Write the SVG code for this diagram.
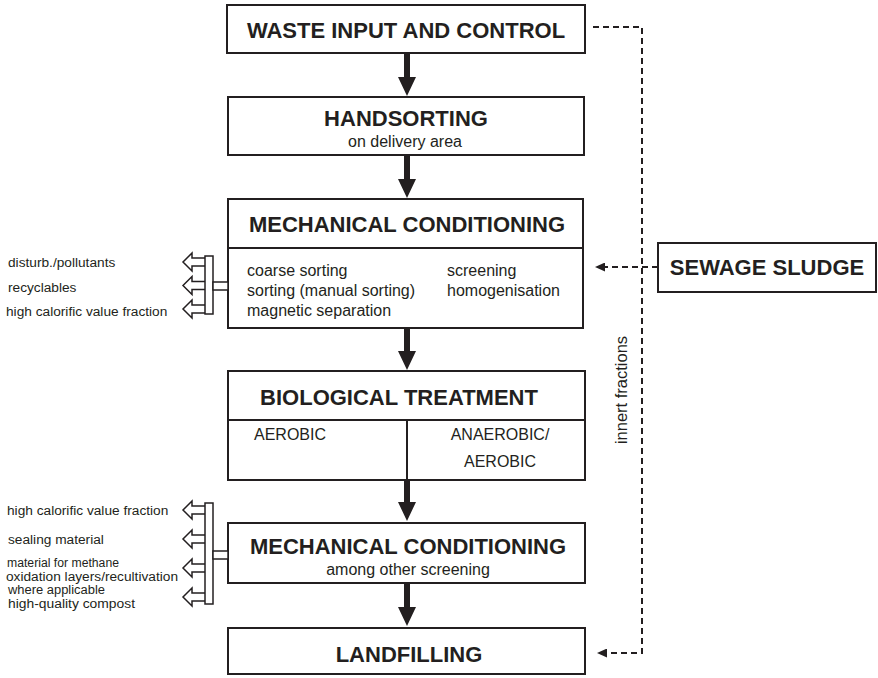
<svg xmlns="http://www.w3.org/2000/svg" width="878" height="678" viewBox="0 0 878 678">
<style>
.box{fill:#fff;stroke:#231f20;stroke-width:2}
.ln{stroke:#231f20;stroke-width:2;fill:none}
.h{font-family:"Liberation Sans",Arial,sans-serif;font-weight:bold;font-size:22px;fill:#231f20;text-anchor:middle}
.t{font-family:"Liberation Sans",Arial,sans-serif;font-size:16px;fill:#231f20}
.c{text-anchor:middle}
.l{font-family:"Liberation Sans",Arial,sans-serif;font-size:13.7px;fill:#231f20}
.s{font-size:12px}
.hollow{fill:#fff;stroke:#231f20;stroke-width:1.5}
.solid{fill:#231f20;stroke:none}
.dash{stroke:#231f20;stroke-width:2;fill:none;stroke-dasharray:6 4}
</style>
<defs>
<marker id="dh" markerUnits="userSpaceOnUse" markerWidth="10" markerHeight="9" refX="0" refY="4.5" orient="auto">
<path d="M0,0 L10,4.5 L0,9 z" fill="#231f20"/>
</marker>
</defs>

<g id="waste-input">
<rect class="box" x="227" y="5" width="358" height="48"/>
<text class="h" x="406" y="38">WASTE INPUT AND CONTROL</text>
</g>

<g id="handsorting">
<rect class="box" x="228" y="97" width="356" height="58"/>
<text class="h" x="406" y="126">HANDSORTING</text>
<text class="t c" x="405" y="147">on delivery area</text>
</g>

<g id="mech-cond-1">
<rect class="box" x="228" y="199" width="355" height="129"/>
<line class="ln" x1="228" y1="248" x2="583" y2="248"/>
<text class="h" x="407" y="232">MECHANICAL CONDITIONING</text>
<text class="t" x="247" y="276">coarse sorting</text>
<text class="t" x="247" y="296">sorting (manual sorting)</text>
<text class="t" x="247" y="316">magnetic separation</text>
<text class="t" x="447" y="276">screening</text>
<text class="t" x="447" y="296">homogenisation</text>
</g>

<g id="bio-treatment">
<rect class="box" x="228" y="371" width="357" height="109"/>
<line class="ln" x1="228" y1="420" x2="585" y2="420"/>
<line class="ln" x1="407" y1="420" x2="407" y2="480"/>
<text class="h" x="399" y="405">BIOLOGICAL TREATMENT</text>
<text class="t" x="254" y="440">AEROBIC</text>
<text class="t c" x="500" y="440">ANAEROBIC/</text>
<text class="t c" x="500" y="467">AEROBIC</text>
</g>

<g id="mech-cond-2">
<rect class="box" x="228" y="523" width="357" height="60"/>
<text class="h" x="408" y="554">MECHANICAL CONDITIONING</text>
<text class="t c" x="408" y="575">among other screening</text>
</g>

<g id="landfilling">
<rect class="box" x="228" y="628" width="357" height="46"/>
<text class="h" x="409" y="662">LANDFILLING</text>
</g>

<g id="sewage-sludge">
<rect class="box" x="658" y="243" width="218" height="49"/>
<text class="h" x="767" y="275">SEWAGE SLUDGE</text>
</g>

<g id="outputs-1">
<path class="hollow" d="M205,258 H192 V253 L183,262 L192,271 V266 H205"/>
<path class="hollow" d="M205,281.5 H192 V276.5 L183,285.5 L192,294.5 V289.5 H205"/>
<path class="hollow" d="M205,305 H192 V300 L183,309 L192,318 V313 H205"/>
<rect class="hollow" x="205" y="256" width="8" height="58"/>
<rect class="hollow" x="213" y="282" width="15" height="8"/>
<text class="l" x="8" y="267">disturb./pollutants</text>
<text class="l" x="8" y="292">recyclables</text>
<text class="l" x="6" y="316">high calorific value fraction</text>
</g>

<g id="outputs-2">
<path class="hollow" d="M205,506 H192 V501 L183,510 L192,519 V514 H205"/>
<path class="hollow" d="M205,535 H192 V530 L183,539 L192,548 V543 H205"/>
<path class="hollow" d="M205,564 H192 V559 L183,568 L192,577 V572 H205"/>
<path class="hollow" d="M205,593 H192 V588 L183,597 L192,606 V601 H205"/>
<rect class="hollow" x="205" y="503" width="8" height="101"/>
<rect class="hollow" x="213" y="551" width="15" height="8"/>
<text class="l" x="7" y="515">high calorific value fraction</text>
<text class="l" x="8" y="544">sealing material</text>
<text class="l s" x="7" y="567" textLength="112" lengthAdjust="spacingAndGlyphs">material for methane</text>
<text class="l s" x="6" y="580.5" textLength="172" lengthAdjust="spacingAndGlyphs">oxidation layers/recultivation</text>
<text class="l s" x="8" y="594" textLength="97" lengthAdjust="spacingAndGlyphs">where applicable</text>
<text class="l s" x="8" y="607.5" textLength="127" lengthAdjust="spacingAndGlyphs">high-quality compost</text>
</g>

<g id="connectors">
<path class="solid" d="M404,53 H410 V77 H416 L407,96 L398,77 H404 z"/>
<path class="solid" d="M404,155 H410 V179 H416 L407,198 L398,179 H404 z"/>
<path class="solid" d="M404,328 H410 V351 H416 L407,370 L398,351 H404 z"/>
<path class="solid" d="M404,480 H410 V502 H416 L407,521 L398,502 H404 z"/>
<path class="solid" d="M404,583 H410 V607 H416 L407,626 L398,607 H404 z"/>
<path class="dash" d="M593,27 H642 V653 H607" marker-end="url(#dh)"/>
<path class="dash" d="M658,267 H605" marker-end="url(#dh)"/>
<text class="t c" transform="translate(627,390) rotate(-90)" style="font-size:16.5px">innert fractions</text>
</g>
</svg>
